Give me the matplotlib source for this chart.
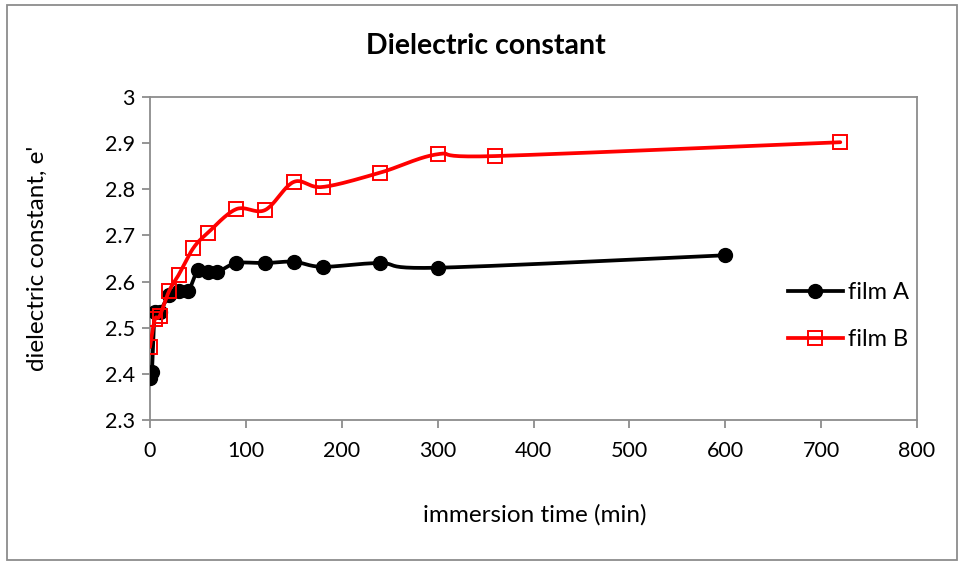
import numpy as np
import matplotlib
matplotlib.use("Agg")
import matplotlib.pyplot as plt
from matplotlib.lines import Line2D
from matplotlib.patches import Rectangle

plt.rcParams['font.family'] = ['Lato', 'DejaVu Sans']

# immersion time (min) and dielectric constant for each film
time_a = [0, 2, 5, 10, 20, 30, 40, 50, 60, 70, 90, 120, 150, 180, 240, 300, 600]
eps_a = [2.39, 2.405, 2.535, 2.535, 2.57, 2.58, 2.58, 2.625, 2.62, 2.62,
         2.64, 2.64, 2.643, 2.632, 2.64, 2.63, 2.657]

time_b = [0, 5, 10, 20, 30, 45, 60, 90, 120, 150, 180, 240, 300, 360, 720]
eps_b = [2.458, 2.518, 2.525, 2.58, 2.615, 2.672, 2.705, 2.757, 2.755,
         2.816, 2.805, 2.836, 2.876, 2.872, 2.902]

x_ticks = [0, 100, 200, 300, 400, 500, 600, 700, 800]
y_ticks = [2.3, 2.4, 2.5, 2.6, 2.7, 2.8, 2.9, 3.0]
y_tick_labels = ['2.3', '2.4', '2.5', '2.6', '2.7', '2.8', '2.9', '3']

fig = plt.figure(figsize=(9.6, 5.61), dpi=100)
ax = fig.add_axes([150 / 960, 1 - 420 / 561, (917 - 150) / 960, (420 - 97) / 561])
ax.set_xlim(0, 800)
ax.set_ylim(2.3, 3.0)


def smooth(ax, xs, ys, n=24):
    """Bezier smoothing through the points, computed in screen space."""
    pts = ax.transData.transform(np.column_stack([xs, ys]))
    out = [pts[0]]
    m = len(pts)
    for i in range(m - 1):
        p0 = pts[max(i - 1, 0)]
        p1 = pts[i]
        p2 = pts[i + 1]
        p3 = pts[min(i + 2, m - 1)]
        c1 = p1 + (p2 - p0) / 6.0
        c2 = p2 - (p3 - p1) / 6.0
        t = np.linspace(0, 1, n)[1:, None]
        seg = ((1 - t) ** 3) * p1 + 3 * ((1 - t) ** 2) * t * c1 \
            + 3 * (1 - t) * t ** 2 * c2 + t ** 3 * p2
        out.extend(seg)
    out = np.array(out)
    d = ax.transData.inverted().transform(out)
    return d[:, 0], d[:, 1]


sxa, sya = smooth(ax, time_a, eps_a)
sxb, syb = smooth(ax, time_b, eps_b)

lw = 2.7
ax.plot(sxa, sya, color='black', lw=lw, zorder=3, solid_capstyle='round')
ax.plot(time_a, eps_a, linestyle='none', marker='o', ms=10,
        color='black', zorder=4)
ax.plot(sxb, syb, color='#ff0000', lw=lw, zorder=5, solid_capstyle='round')
ax.plot(time_b, eps_b, linestyle='none', marker='s', ms=10,
        mfc='none', mec='#ff0000', mew=1.4, zorder=6)

grey = '#8c8c8c'
for side in ['left', 'bottom', 'top', 'right']:
    ax.spines[side].set_color(grey)
    ax.spines[side].set_linewidth(1.3)

ax.set_xticks(x_ticks)
ax.set_xticklabels([str(v) for v in x_ticks])
ax.set_yticks(y_ticks)
ax.set_yticklabels(y_tick_labels)
ax.tick_params(axis='both', colors=grey, labelcolor='black', labelsize=15.5,
               length=6, width=1.3, direction='out')
ax.tick_params(axis='x', pad=9)
ax.tick_params(axis='y', pad=5)

fig.text(486 / 960, 1 - 46 / 561, 'Dielectric constant', ha='center',
         va='center', fontsize=20.5, fontweight='bold')
fig.text(535 / 960, 1 - 515 / 561, 'immersion time (min)', ha='center',
         va='center', fontsize=17.5)
fig.text(37 / 960, 1 - 258 / 561, "dielectric constant, e'", ha='center',
         va='center', fontsize=17.5, rotation=90)

handles = [
    Line2D([], [], color='black', lw=lw, marker='o', ms=10),
    Line2D([], [], color='#ff0000', lw=lw, marker='s', ms=10,
           mfc='none', mec='#ff0000', mew=1.4),
]
fig.legend(handles, ['film A', 'film B'], loc='center left',
           bbox_to_anchor=(767 / 960, 1 - 316 / 561), frameon=False,
           fontsize=17, handlelength=2.3, handletextpad=0.25,
           labelspacing=1.1)

fig.patches.append(Rectangle((7 / 960, 1 - 560 / 561), (957 - 7) / 960,
                             (560 - 5) / 561, transform=fig.transFigure,
                             fill=False, edgecolor=grey, lw=1.3))

fig.savefig('out.png', dpi=100)
